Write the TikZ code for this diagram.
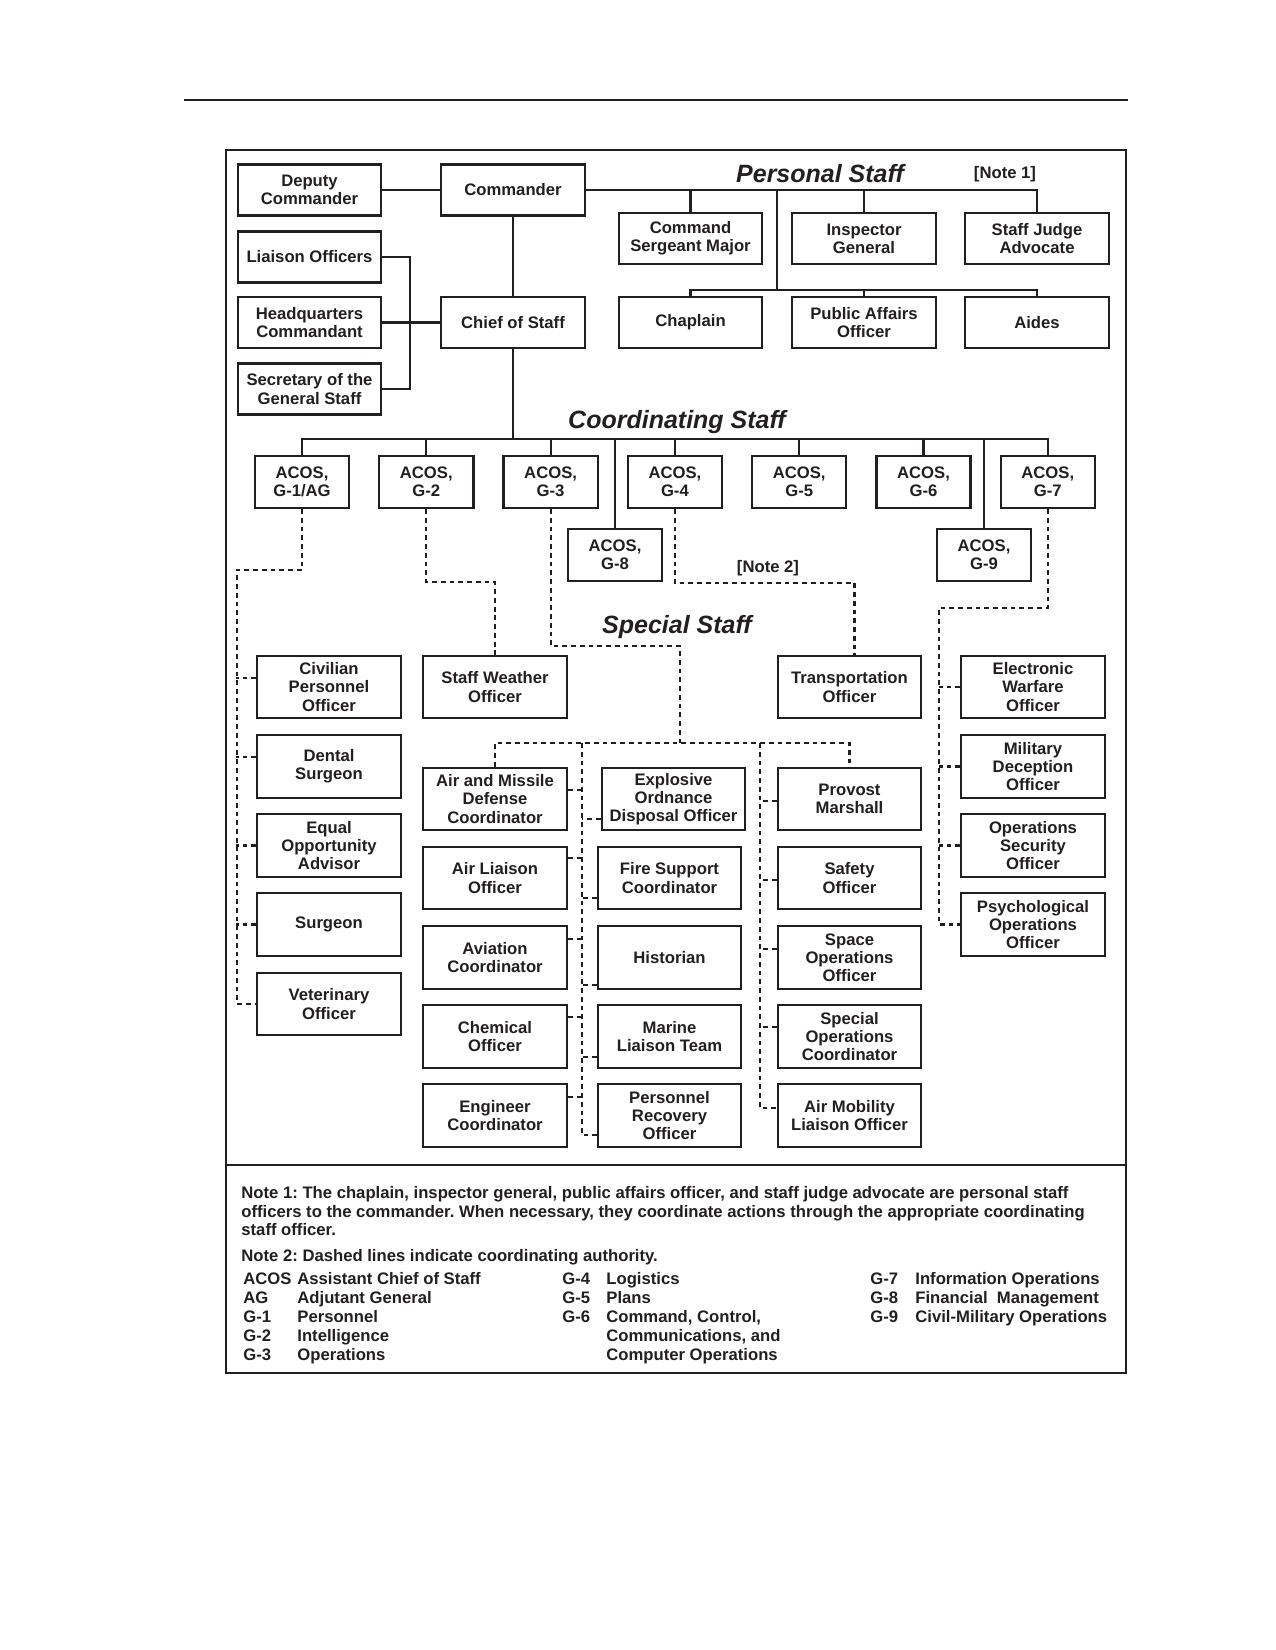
\documentclass[tikz,border=0pt]{standalone}
\usepackage{fontspec}
\setmainfont{Liberation Sans}
\definecolor{ink}{RGB}{35,31,32}
\frenchspacing

\tikzset{
  box/.style={draw=ink, line width=1.1pt, fill=white, inner sep=1pt, align=center, text=ink,
    minimum width=68.8pt, minimum height=24.5pt, font=\fontsize{8}{8.7}\selectfont\bfseries},
  acos/.style={box, minimum width=45.2pt, minimum height=25pt},
  spec/.style={box, minimum height=30pt},
  line/.style={draw=ink, line width=1pt},
  coord/.style={draw=ink, line width=1pt, dash pattern=on 2.3pt off 1.9pt},
  title/.style={font=\fontsize{12}{14}\selectfont\bfseries\itshape, text=ink},
  tag/.style={font=\fontsize{8}{9}\selectfont\bfseries, text=ink},
  note/.style={font=\fontsize{8}{9.1}\selectfont\bfseries, text=ink, anchor=base west, inner sep=0pt},
}

\begin{document}
\begin{tikzpicture}[x=0.48pt,y=-0.48pt]
\fill[white] (0,0) rectangle (1275,1650);
\useasboundingbox (0,0) rectangle (1275,1650);

% page rule and frame
\draw[ink, line width=1pt] (184,100) -- (1128,100);
\draw[ink, line width=1.1pt] (226,150) rectangle (1126,1373);
\draw[ink, line width=0.8pt] (226,1165) -- (1126,1165);

% command group
\node[box] (dep) at (309.5,190) {Deputy\\Commander};
\node[box] (cdr) at (513,190) {Commander};
\node[box] (lno) at (309.5,257) {Liaison Officers};
\node[box] (hqc) at (309.5,322.5) {Headquarters\\Commandant};
\node[box] (sgs) at (309.5,389) {Secretary of the\\General Staff};
\node[box] (cos) at (513,322.5) {Chief of Staff};
\coordinate (brk) at (410,322.5);
\draw[line] (dep) -- (cdr);
\draw[line] (cdr) -- (cos);
\draw[line] (hqc) -- (cos);
\draw[line] (lno.east) -| (brk) |- (sgs.east);

% personal staff
\node[title] (pstitle) at (820,174) {Personal Staff};
\node[tag] (note1) at (1005,174) {[Note 1]};
\node[box] (csm) at (690.5,238.5) {Command\\Sergeant Major};
\node[box] (ig) at (864,238.5) {Inspector\\General};
\node[box] (sja) at (1037,238.5) {Staff Judge\\Advocate};
\node[box] (chap) at (690.5,322.5) {Chaplain};
\node[box] (pao) at (864,322.5) {Public Affairs\\Officer};
\node[box] (aides) at (1037,322.5) {Aides};
\coordinate (pbus) at (777,290);
\draw[line] (cdr.east) -| (sja.north);
\draw[line] (csm.north) -- (csm.north |- cdr.east);
\draw[line] (ig.north) -- (ig.north |- cdr.east);
\draw[line] (pbus |- cdr.east) -- (pbus);
\draw[line] (chap.north) |- (pbus) -| (aides.north);
\draw[line] (pao.north) -- (pao.north |- pbus);

% coordinating staff
\node[title] (cstitle) at (677,422) {Coordinating Staff};
\node[acos] (g1) at (302,482) {ACOS,\\G-1/AG};
\node[acos] (g2) at (426.3,482) {ACOS,\\G-2};
\node[acos] (g3) at (550.6,482) {ACOS,\\G-3};
\node[acos] (g4) at (674.9,482) {ACOS,\\G-4};
\node[acos] (g5) at (799.2,482) {ACOS,\\G-5};
\node[acos] (g6) at (923.5,482) {ACOS,\\G-6};
\node[acos] (g7) at (1047.8,482) {ACOS,\\G-7};
\node[acos] (g8) at (615,555) {ACOS,\\G-8};
\node[acos] (g9) at (984,555) {ACOS,\\G-9};
\coordinate (cbus) at (513,439);
\draw[line] (cos) -- (cbus);
\draw[line] (g1.north) |- (cbus) -| (g7.north);
\draw[line] (g2.north) -- (g2.north |- cbus);
\draw[line] (g3.north) -- (g3.north |- cbus);
\draw[line] (g4.north) -- (g4.north |- cbus);
\draw[line] (g5.north) -- (g5.north |- cbus);
\draw[line] (g6.north) -- (g6.north |- cbus);
\draw[line] (g8.north) -- (g8.north |- cbus);
\draw[line] (g9.north) -- (g9.north |- cbus);

% special staff
\node[title] (sstitle) at (677,627) {Special Staff};
\node[tag] (note2) at (768,568) {[Note 2]};
\node[spec] (civ) at (329,687) {Civilian\\Personnel\\Officer};
\node[spec] (dent) at (329,766.5) {Dental\\Surgeon};
\node[spec] (eeo) at (329,845.5) {Equal\\Opportunity\\Advisor};
\node[spec] (surg) at (329,924.5) {Surgeon};
\node[spec] (vet) at (329,1004) {Veterinary\\Officer};
\node[spec] (swo) at (495,687) {Staff Weather\\Officer};
\node[spec] (tpo) at (849.5,687) {Transportation\\Officer};
\node[spec] (ewo) at (1033,687) {Electronic\\Warfare\\Officer};
\node[spec] (mdo) at (1033,766.5) {Military\\Deception\\Officer};
\node[spec] (opsec) at (1033,845.5) {Operations\\Security\\Officer};
\node[spec] (psyop) at (1033,924.5) {Psychological\\Operations\\Officer};
\node[spec] (amd) at (495,799) {Air and Missile\\Defense\\Coordinator};
\node[spec] (alo) at (495,878) {Air Liaison\\Officer};
\node[spec] (avn) at (495,957.5) {Aviation\\Coordinator};
\node[spec] (chem) at (495,1036.5) {Chemical\\Officer};
\node[spec] (engr) at (495,1115.5) {Engineer\\Coordinator};
\node[spec] (eod) at (673.5,799) {Explosive\\Ordnance\\Disposal Officer};
\node[spec] (fsc) at (669.5,878) {Fire Support\\Coordinator};
\node[spec] (hist) at (669.5,957.5) {Historian};
\node[spec] (mlt) at (669.5,1036.5) {Marine\\Liaison Team};
\node[spec] (pro) at (669.5,1115.5) {Personnel\\Recovery\\Officer};
\node[spec] (pm) at (849.5,799) {Provost\\Marshall};
\node[spec] (safe) at (849.5,878) {Safety\\Officer};
\node[spec] (space) at (849.5,957.5) {Space\\Operations\\Officer};
\node[spec] (soc) at (849.5,1036.5) {Special\\Operations\\Coordinator};
\node[spec] (amlo) at (849.5,1115.5) {Air Mobility\\Liaison Officer};

% coordinating authority (dashed)
\coordinate (lspine) at (237,570);
\coordinate (sbus) at (680,743);
\coordinate (spineB) at (582,743);
\coordinate (spineC) at (760,743);
\coordinate (rspine) at (939,608);
% G-1
\draw[coord] (g1.south) |- (lspine) |- (vet.west);
\draw[coord] ([yshift=4.3pt]civ.west) -- ++(-20,0);
\draw[coord] ([yshift=4.6pt]dent.west) -- ++(-20,0);
\draw[coord] (eeo.west) -- ++(-20,0);
\draw[coord] (surg.west) -- ++(-20,0);
% G-2
\draw[coord] (g2.south) -- ++(0,73) -| (swo.north);
% G-3
\draw[coord] (g3.south) -- ++(0,137) -| (sbus);
\draw[coord] (amd.north) |- (sbus) -| (pm.north);
\draw[coord] (spineB) |- ([yshift=-9.4pt]pro.west);
\draw[coord] (spineC) |- ([yshift=3.6pt]amlo.west);
\draw[coord] ([yshift=4.3pt]amd.east) -- ++(15,0);
\draw[coord] ([yshift=9.6pt]alo.east) -- ++(15,0);
\draw[coord] ([yshift=9.1pt]avn.east) -- ++(15,0);
\draw[coord] ([yshift=9.4pt]chem.east) -- ++(15,0);
\draw[coord] ([yshift=8.9pt]engr.east) -- ++(15,0);
\draw[coord] ([yshift=-9.6pt]eod.west) -- ++(-19,0);
\draw[coord] ([yshift=-9.6pt]fsc.west) -- ++(-15,0);
\draw[coord] ([yshift=-13.4pt]hist.west) -- ++(-15,0);
\draw[coord] ([yshift=-9.8pt]mlt.west) -- ++(-15,0);
\draw[coord] ([yshift=-1pt]pm.west) -- ++(-17,0);
\draw[coord] ([yshift=-1pt]safe.west) -- ++(-17,0);
\draw[coord] ([yshift=4.3pt]space.west) -- ++(-17,0);
\draw[coord] ([yshift=4.6pt]soc.west) -- ++(-17,0);
% G-4
\draw[coord] (g4.south) -- ++(0,74) -| ([xshift=2.4pt]tpo.north);
% G-7
\draw[coord] (g7.south) |- (rspine) |- (psyop.west);
\draw[coord] (ewo.west) -- ++(-21,0);
\draw[coord] (mdo.west) -- ++(-21,0);
\draw[coord] (opsec.west) -- ++(-21,0);

% notes
\node[note] (n1a) at (241,1198) {Note 1: The chaplain, inspector general, public affairs officer, and staff judge advocate are personal staff};
\node[note] (n1b) at (241,1217) {officers to the commander. When necessary, they coordinate actions through the appropriate coordinating};
\node[note] (n1c) at (241,1235) {staff officer.};
\node[note] (n2) at (241,1261) {Note 2: Dashed lines indicate coordinating authority.};

\node[note] at (243,1284) {ACOS};
\node[note] at (297,1284) {Assistant Chief of Staff};
\node[note] at (243,1303) {AG};
\node[note] at (297,1303) {Adjutant General};
\node[note] at (243,1322) {G-1};
\node[note] at (297,1322) {Personnel};
\node[note] at (243,1341) {G-2};
\node[note] at (297,1341) {Intelligence};
\node[note] at (243,1360) {G-3};
\node[note] at (297,1360) {Operations};

\node[note] at (562,1284) {G-4};
\node[note] at (606,1284) {Logistics};
\node[note] at (562,1303) {G-5};
\node[note] at (606,1303) {Plans};
\node[note] at (562,1322) {G-6};
\node[note] at (606,1322) {Command, Control,};
\node[note] at (606,1341) {Communications, and};
\node[note] at (606,1360) {Computer Operations};

\node[note] at (870,1284) {G-7};
\node[note] at (915,1284) {Information Operations};
\node[note] at (870,1303) {G-8};
\node[note] at (915,1303) {Financial\ \ Management};
\node[note] at (870,1322) {G-9};
\node[note] at (915,1322) {Civil-Military Operations};
\end{tikzpicture}
\end{document}
